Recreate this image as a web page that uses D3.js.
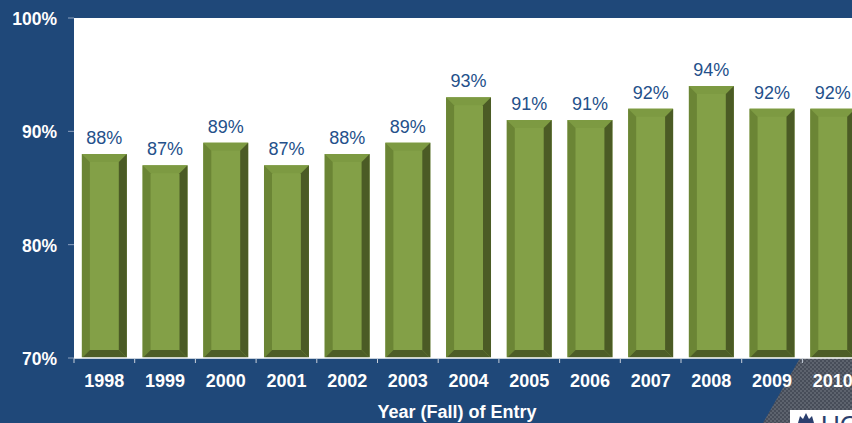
<!DOCTYPE html>
<html>
<head>
<meta charset="utf-8">
<script src="https://cdn.jsdelivr.net/npm/d3@7"></script>
<style>
  body { margin: 0; background: #1f4879; }
  svg { display: block; }
  text { font-family: Arial, "Liberation Sans", sans-serif; }
</style>
</head>
<body>
<svg width="852" height="423"></svg>
<script>
// data
var years = ['1998', '1999', '2000', '2001', '2002', '2003', '2004', '2005', '2006', '2007', '2008', '2009', '2010'];
var rates = [88, 87, 89, 87, 88, 89, 93, 91, 91, 92, 94, 92, 92];
var yTicks = [70, 80, 90, 100];

var svg = d3.select('svg');
var W = 852, H = 423;

svg.append('rect')
  .attr('width', W).attr('height', H)
  .attr('fill', '#1f4879');

// plot area
var plotLeft = 74, plotTop = 18, plotBottom = 358;
var step = 60.7;
var plotRight = plotLeft + years.length * step;

var x = d3.scaleBand()
  .domain(years)
  .range([plotLeft, plotRight])
  .paddingInner(0.26)
  .paddingOuter(0.13);

var y = d3.scaleLinear()
  .domain([70, 100])
  .range([plotBottom, plotTop]);

svg.append('rect')
  .attr('x', plotLeft).attr('y', plotTop)
  .attr('width', W - plotLeft).attr('height', plotBottom - plotTop)
  .attr('fill', '#ffffff');

// hatched corner in the bottom right
var defs = svg.append('defs');
var pat = defs.append('pattern')
  .attr('id', 'hatch')
  .attr('width', 4).attr('height', 4)
  .attr('patternUnits', 'userSpaceOnUse');
pat.append('rect').attr('width', 4).attr('height', 4).attr('fill', '#5d636e');
pat.append('rect').attr('width', 2).attr('height', 2).attr('fill', '#474d59');
pat.append('rect').attr('x', 2).attr('y', 2).attr('width', 2).attr('height', 2).attr('fill', '#474d59');

svg.append('polygon')
  .attr('points', [[800, plotBottom], [W, plotBottom], [W, H], [763, H]].join(' '))
  .attr('fill', 'url(#hatch)');

svg.append('rect')
  .attr('x', 790).attr('y', 410)
  .attr('width', 62).attr('height', 13)
  .attr('fill', '#ffffff');
svg.append('path')
  .attr('d', 'M798,423 L800,416 L803,419 L806,413 L809,419 L812,416 L814,423 Z')
  .attr('fill', '#2b3f6e');
svg.append('text')
  .attr('x', 821).attr('y', 434)
  .attr('font-family', 'Liberation Serif, serif')
  .attr('font-size', 26)
  .attr('fill', '#2b3f6e')
  .text('UC');

// bars with bevelled edges
var data = years.map(function(yr, i){ return { year: yr, value: rates[i] }; });
var bev = 8;

var bars = svg.selectAll('g.bar')
  .data(data)
  .enter()
  .append('g')
    .attr('class', 'bar');

bars.append('rect')
  .attr('x', function(d){ return x(d.year); })
  .attr('y', function(d){ return y(d.value); })
  .attr('width', x.bandwidth())
  .attr('height', function(d){ return y(70) - y(d.value); })
  .attr('fill', '#83a047');

var bevel = function(side, color){
  bars.append('polygon')
    .attr('fill', color)
    .attr('points', function(d){
      var x0 = x(d.year), x1 = x0 + x.bandwidth();
      var y0 = y(d.value), y1 = y(70);
      var p;
      if (side === 'top') p = [[x0, y0], [x1, y0], [x1 - bev, y0 + bev], [x0 + bev, y0 + bev]];
      if (side === 'bottom') p = [[x0, y1], [x1, y1], [x1 - bev, y1 - bev], [x0 + bev, y1 - bev]];
      if (side === 'left') p = [[x0, y0], [x0 + bev, y0 + bev], [x0 + bev, y1 - bev], [x0, y1]];
      if (side === 'right') p = [[x1, y0], [x1 - bev, y0 + bev], [x1 - bev, y1 - bev], [x1, y1]];
      return p.join(' ');
    });
};
bevel('top', '#7d9a42');
bevel('left', '#6b8535');
bevel('right', '#4b5b25');
bevel('bottom', '#4d5d27');

// value labels
svg.selectAll('text.val')
  .data(data)
  .enter()
  .append('text')
    .attr('class', 'val')
    .attr('x', function(d){ return x(d.year) + x.bandwidth() / 2; })
    .attr('y', function(d){ return y(d.value) - 10; })
    .attr('text-anchor', 'middle')
    .attr('font-size', 18)
    .attr('fill', '#24508a')
    .text(function(d){ return d.value + '%'; });

// x axis line and ticks
svg.append('line')
  .attr('x1', plotLeft).attr('x2', W)
  .attr('y1', plotBottom).attr('y2', plotBottom)
  .attr('stroke', '#ffffff').attr('stroke-width', 1.5);

svg.selectAll('line.xt')
  .data(years)
  .enter()
  .append('line')
    .attr('class', 'xt')
    .attr('x1', function(d){ return x(d) - x.step() * x.paddingInner() / 2; })
    .attr('x2', function(d){ return x(d) - x.step() * x.paddingInner() / 2; })
    .attr('y1', plotBottom).attr('y2', plotBottom + 5)
    .attr('stroke', '#c8d0dc');

svg.selectAll('text.xl')
  .data(years)
  .enter()
  .append('text')
    .attr('class', 'xl')
    .attr('x', function(d){ return x(d) + x.bandwidth() / 2; })
    .attr('y', 387)
    .attr('text-anchor', 'middle')
    .attr('font-size', 18)
    .attr('font-weight', 'bold')
    .attr('fill', '#ffffff')
    .text(function(d){ return d; });

// y axis ticks and labels
svg.selectAll('line.yt')
  .data(yTicks)
  .enter()
  .append('line')
    .attr('class', 'yt')
    .attr('x1', plotLeft - 6).attr('x2', plotLeft)
    .attr('y1', function(d){ return y(d); })
    .attr('y2', function(d){ return y(d); })
    .attr('stroke', '#8ea2c0');

svg.selectAll('text.yl')
  .data(yTicks)
  .enter()
  .append('text')
    .attr('class', 'yl')
    .attr('x', 57)
    .attr('y', function(d){ return y(d) + 7; })
    .attr('text-anchor', 'end')
    .attr('font-size', 17.5)
    .attr('font-weight', 'bold')
    .attr('fill', '#ffffff')
    .text(function(d){ return d + '%'; });

svg.append('text')
  .attr('x', 457).attr('y', 418)
  .attr('text-anchor', 'middle')
  .attr('font-size', 18)
  .attr('font-weight', 'bold')
  .attr('fill', '#ffffff')
  .text('Year (Fall) of Entry');
</script>
</body>
</html>
